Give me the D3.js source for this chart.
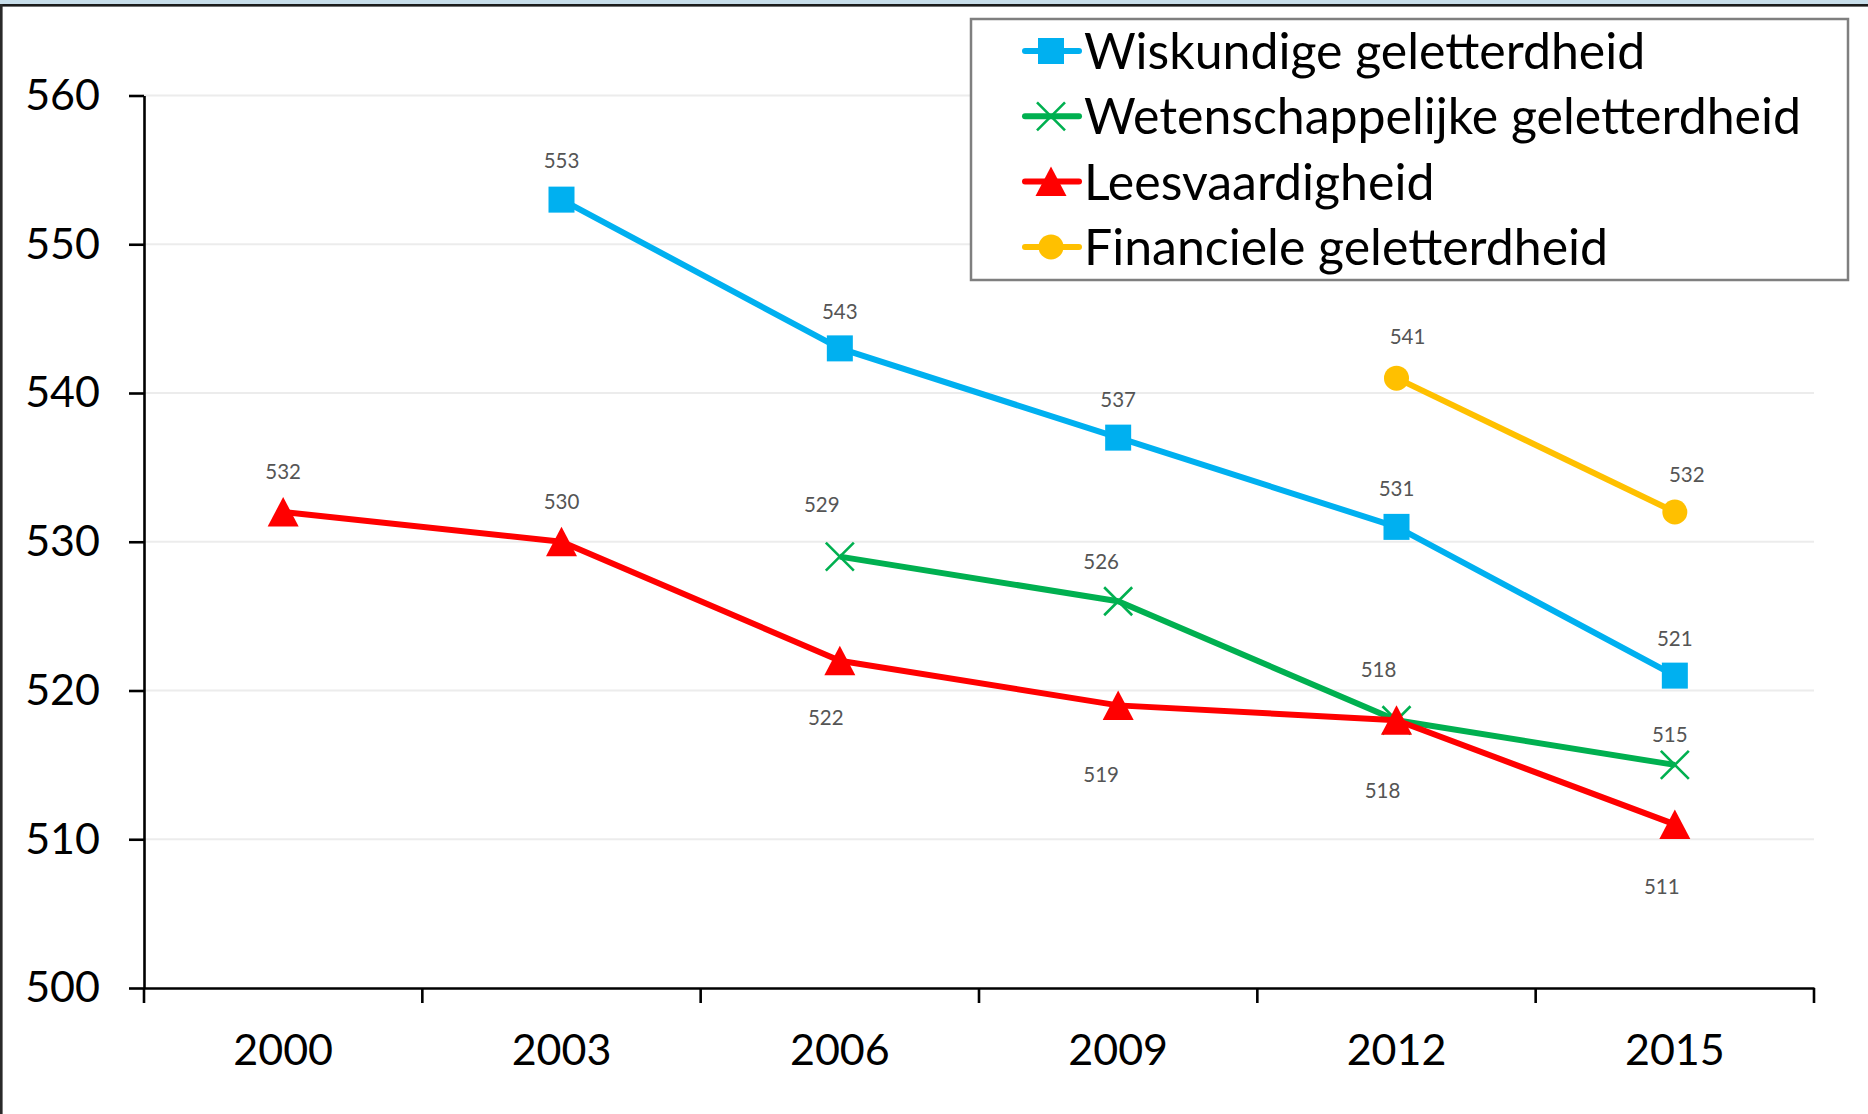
<!DOCTYPE html>
<html>
<head>
<meta charset="utf-8">
<script src="https://cdn.jsdelivr.net/npm/d3@7"></script>
<style>
  body { margin: 0; background: #fff; }
  svg { display: block; }
  text { font-family: Lato, "Open Sans", sans-serif; }
</style>
</head>
<body>
<svg id="chart"></svg>
<script>
// data
const years = ["2000", "2003", "2006", "2009", "2012", "2015"];
const seriesNames = ["Wiskundige geletterdheid", "Wetenschappelijke geletterdheid", "Leesvaardigheid", "Financiele geletterdheid"];
const wiskunde   = [null, 553, 543, 537, 531, 521];
const wetenschap = [null, null, 529, 526, 518, 515];
const lezen      = [532, 530, 522, 519, 518, 511];
const financieel = [null, null, null, null, 541, 532];
const yTicks = [500, 510, 520, 530, 540, 550, 560];

// label nudges (px) per point, as Excel placed them
const wiskundeNudge   = [null, [0, -39], [0, -37], [0, -38], [0, -38], [0, -37]];
const wetenschapNudge = [null, null, [-18, -52], [-17, -40], [-18, -51], [-5, -30]];
const lezenNudge      = [[0, -40], [0, -40], [-14, 57], [-17, 69], [-14, 70], [-13, 62]];
const financieelNudge = [null, null, null, null, [11, -42], [12, -37]];

const series = [
  { name: seriesNames[0], values: wiskunde,   nudge: wiskundeNudge,   color: "#00B0F0", marker: "square" },
  { name: seriesNames[1], values: wetenschap, nudge: wetenschapNudge, color: "#00B050", marker: "x" },
  { name: seriesNames[2], values: lezen,      nudge: lezenNudge,      color: "#FF0000", marker: "triangle" },
  { name: seriesNames[3], values: financieel, nudge: financieelNudge, color: "#FFC000", marker: "circle" }
];

const W = 1868, H = 1114;
const svg = d3.select("#chart").attr("width", W).attr("height", H);

// frame bits from the original screenshot
svg.append("rect").attr("x", 0).attr("y", 0).attr("width", W).attr("height", 4.5).attr("fill", "#c8deea");
svg.append("rect").attr("x", 0).attr("y", 4).attr("width", W).attr("height", 2.6).attr("fill", "#1c1c1c");
svg.append("rect").attr("x", 0).attr("y", 4).attr("width", 2.6).attr("height", H).attr("fill", "#2a2a2a");

const plot = { left: 144, right: 1814, top: 95.5, bottom: 988 };

const x = d3.scaleBand().domain(years).range([plot.left, plot.right]).padding(0);
const y = d3.scaleLinear().domain([500, 560]).range([plot.bottom, plot.top]);

// gridlines
svg.append("g")
  .selectAll("line")
  .data(yTicks.filter(d => d > 500))
  .enter().append("line")
  .attr("x1", plot.left).attr("x2", plot.right)
  .attr("y1", d => y(d)).attr("y2", d => y(d))
  .attr("stroke", "#ececec")
  .attr("stroke-width", 2);

// y axis
const yAxis = svg.append("g")
  .attr("transform", `translate(${plot.left},0)`)
  .call(d3.axisLeft(y).tickValues(yTicks).tickSize(15).tickSizeOuter(0).tickPadding(29));
yAxis.select(".domain").attr("stroke", "#000").attr("stroke-width", 2.6);
yAxis.selectAll(".tick line").attr("stroke", "#000").attr("stroke-width", 2.6);
yAxis.selectAll(".tick text")
  .attr("font-size", 43).attr("fill", "#000")
  .attr("font-family", "Lato, 'Open Sans', sans-serif");

// x axis (labels centred, ticks on category borders)
const xAxis = svg.append("g")
  .attr("transform", `translate(0,${plot.bottom})`)
  .call(d3.axisBottom(x).tickSize(0).tickSizeOuter(0).tickPadding(46));
xAxis.select(".domain").attr("stroke", "#000").attr("stroke-width", 2.6);
xAxis.selectAll(".tick text")
  .attr("font-size", 43).attr("fill", "#000")
  .attr("font-family", "Lato, 'Open Sans', sans-serif");

const borders = years.map(d => x(d)).concat([x.range()[1]]);
svg.append("g")
  .selectAll("line")
  .data(borders)
  .enter().append("line")
  .attr("x1", d => d).attr("x2", d => d)
  .attr("y1", plot.bottom).attr("y2", plot.bottom + 15)
  .attr("stroke", "#000").attr("stroke-width", 2.6);

// markers
function drawMarker(g, type, color, cx, cy) {
  if (type === "square") {
    g.append("rect").attr("x", cx - 13).attr("y", cy - 13).attr("width", 26).attr("height", 26).attr("fill", color);
  } else if (type === "triangle") {
    g.append("path")
      .attr("d", `M${cx},${cy - 15}L${cx + 15.5},${cy + 14.5}L${cx - 15.5},${cy + 14.5}Z`)
      .attr("fill", color);
  } else if (type === "circle") {
    g.append("circle").attr("cx", cx).attr("cy", cy).attr("r", 12.5).attr("fill", color);
  } else if (type === "x") {
    g.append("path")
      .attr("d", `M${cx - 14},${cy - 14}L${cx + 14},${cy + 14}M${cx - 14},${cy + 14}L${cx + 14},${cy - 14}`)
      .attr("stroke", color).attr("stroke-width", 2.6).attr("fill", "none");
  }
}

const cx = d => x(d) + x.bandwidth() / 2;

const line = d3.line()
  .defined(d => d.v !== null)
  .x(d => cx(d.year))
  .y(d => y(d.v));

series.forEach(s => {
  const pts = years.map((yr, i) => ({ year: yr, v: s.values[i], nudge: s.nudge[i] }));
  const g = svg.append("g");
  g.append("path")
    .datum(pts)
    .attr("d", line)
    .attr("fill", "none")
    .attr("stroke", s.color)
    .attr("stroke-width", 6)
    .attr("stroke-linejoin", "round");
  pts.filter(d => d.v !== null).forEach(d => drawMarker(g, s.marker, s.color, cx(d.year), y(d.v)));
  g.selectAll(".lbl")
    .data(pts.filter(d => d.v !== null))
    .enter().append("text")
    .attr("x", d => cx(d.year) + d.nudge[0])
    .attr("y", d => y(d.v) + d.nudge[1])
    .attr("dy", "0.36em")
    .attr("text-anchor", "middle")
    .attr("font-size", 20.5)
    .attr("fill", "#555")
    .text(d => d.v);
});

// legend
const lg = svg.append("g");
lg.append("rect")
  .attr("x", 971).attr("y", 19).attr("width", 877).attr("height", 261)
  .attr("fill", "#fff").attr("stroke", "#7f7f7f").attr("stroke-width", 2.5);

series.forEach((s, i) => {
  const ly = 51 + i * 65.3;
  lg.append("line")
    .attr("x1", 1025).attr("x2", 1079).attr("y1", ly).attr("y2", ly)
    .attr("stroke", s.color).attr("stroke-width", 6).attr("stroke-linecap", "round");
  drawMarker(lg, s.marker, s.color, 1051, ly);
  lg.append("text")
    .attr("x", 1084).attr("y", ly).attr("dy", "0.36em")
    .attr("font-size", 50).attr("fill", "#000")
    .text(s.name);
});
</script>
</body>
</html>
